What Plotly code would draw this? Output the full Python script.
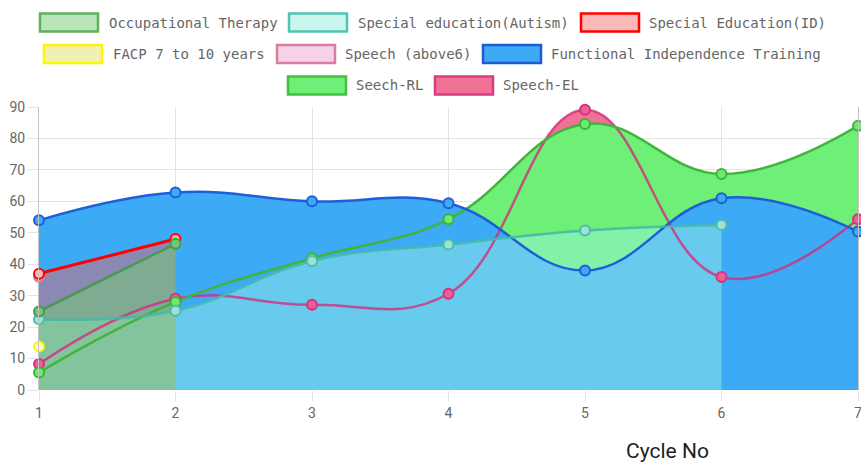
import plotly.graph_objects as go

# ---------------- data ----------------
cycles = [1, 2, 3, 4, 5, 6, 7]
occupational_therapy = [25, 46.5, None, None, None, None, None]
special_autism = [22.5, 25.2, 41, 46.3, 50.7, 52.5, None]
special_id = [37, 48, None, None, None, None, None]
facp_7_10 = [13.8, None, None, None, None, None, None]
speech_above6 = [36, None, None, None, None, None, None]
functional_independence = [54, 62.8, 60, 59.4, 38, 61, 50.4]
seech_rl = [5.6, 28, 41.9, 54.3, 84.6, 68.7, 84]
speech_el = [8.3, 29, 27.1, 30.6, 89.1, 35.9, 54.3]
x_ticks = [1, 2, 3, 4, 5, 6, 7]
y_ticks = [0, 10, 20, 30, 40, 50, 60, 70, 80, 90]

names = ["Occupational Therapy", "Special education(Autism)", "Special Education(ID)",
         "FACP 7 to 10 years", "Speech (above6)", "Functional Independence Training",
         "Seech-RL", "Speech-EL"]
series = [occupational_therapy, special_autism, special_id, facp_7_10,
          speech_above6, functional_independence, seech_rl, speech_el]

# ---------------- styles ----------------
area_fill = ["rgba(115,205,115,0.5)", "rgba(158,245,229,0.45)", "rgba(244,93,93,0.43)",
             "rgba(240,240,180,0.6)", "rgba(245,210,230,0.6)", "rgb(60,170,245)",
             "rgb(110,240,120)", "rgb(240,115,150)"]
line_col = ["rgb(70,155,80)", "rgba(70,185,170,0.9)", "rgb(255,0,0)",
            "rgb(255,245,0)", "rgb(215,125,160)", "rgb(30,95,215)",
            "rgb(65,180,60)", "rgba(210,45,125,0.8)"]
line_w = [2.5, 2.5, 3, 2.5, 2.5, 2.5, 2.5, 2.5]
mark_fill = ["rgb(120,195,120)", "rgb(160,225,215)", "rgb(250,185,185)",
             "rgb(250,250,200)", "rgb(235,140,170)", "rgb(60,170,245)",
             "rgb(110,235,110)", "rgb(235,95,145)"]
mark_line = ["rgb(70,155,80)", "rgb(75,190,170)", "rgb(255,0,0)",
             "rgb(255,245,0)", "rgb(215,125,160)", "rgb(30,95,215)",
             "rgb(60,180,60)", "rgb(215,50,130)"]
legend_fill = ["rgb(185,230,185)", "rgb(202,246,238)", "rgb(250,185,185)",
               "rgb(240,240,180)", "rgb(245,210,230)", "rgb(60,170,245)",
               "rgb(110,240,120)", "rgb(240,115,150)"]
legend_border = ["rgb(95,175,95)", "rgb(80,195,180)", "rgb(255,0,0)",
                 "rgb(255,245,0)", "rgb(215,125,160)", "rgb(30,90,210)",
                 "rgb(70,190,60)", "rgb(215,60,130)"]
# legend layout (pixels): box left, row centre y, text left
legend_pos = [(40, 22.5, 107), (289, 22.5, 356), (581, 22.5, 647),
              (44, 54, 111), (277, 54, 343), (483, 54, 549),
              (288, 85.5, 354), (435, 85.5, 501)]

W, H = 861, 472
ML, MR, MT, MB = 39, 3, 107, 82
PW, PH = W - ML - MR, H - MT - MB


def px(x):
    return (x - ML) / PW


def py(y):
    return (H - MB - y) / PH


fig = go.Figure()
draw_order = [7, 6, 5, 4, 3, 2, 1, 0]  # last dataset at the bottom

# fills
for i in draw_order:
    vals = series[i]
    if sum(v is not None for v in vals) < 2:
        continue
    fig.add_trace(go.Scatter(x=cycles, y=vals, mode="lines", fill="tozeroy",
                             fillcolor=area_fill[i],
                             line=dict(width=0, shape="spline", smoothing=1.2,
                                       color=area_fill[i]),
                             hoverinfo="skip", showlegend=False))
# lines
for i in draw_order:
    vals = series[i]
    if sum(v is not None for v in vals) < 2:
        continue
    fig.add_trace(go.Scatter(x=cycles, y=vals, mode="lines", name=names[i],
                             line=dict(width=line_w[i], shape="spline", smoothing=1.2,
                                       color=line_col[i]),
                             showlegend=False))
# points
for i in draw_order:
    fig.add_trace(go.Scatter(x=cycles, y=series[i], mode="markers", name=names[i],
                             marker=dict(size=10, color=mark_fill[i],
                                         line=dict(width=2, color=mark_line[i])),
                             cliponaxis=False, showlegend=False))

shapes = []
annotations = []
for i, (bx, cy, tx) in enumerate(legend_pos):
    shapes.append(dict(type="rect", xref="paper", yref="paper",
                       x0=px(bx), x1=px(bx + 58), y0=py(cy - 9), y1=py(cy + 9),
                       fillcolor=legend_fill[i],
                       line=dict(color=legend_border[i], width=2.5)))
    annotations.append(dict(text=names[i], xref="paper", yref="paper",
                            x=px(tx), y=py(cy), xanchor="left", yanchor="middle",
                            showarrow=False,
                            font=dict(family="DejaVu Sans Mono", size=14,
                                      color="rgb(102,102,102)")))
annotations.append(dict(text="Cycle No", xref="paper", yref="paper",
                        x=px(667), y=py(451), xanchor="center", yanchor="middle",
                        showarrow=False,
                        font=dict(family="Roboto", size=21, color="rgb(30,30,30)")))

fig.update_layout(
    width=W, height=H,
    margin=dict(l=ML, r=MR, t=MT, b=MB, pad=0, autoexpand=False),
    paper_bgcolor="white", plot_bgcolor="white",
    showlegend=False,
    shapes=shapes, annotations=annotations,
    xaxis=dict(range=[1, 7], tickvals=x_ticks, ticktext=[str(v) for v in x_ticks],
               showgrid=True, gridcolor="rgb(228,228,228)", gridwidth=1,
               zeroline=False, showline=False, ticklabeloverflow="allow",
               ticks="outside", ticklen=10, tickcolor="rgb(228,228,228)",
               tickfont=dict(family="Roboto", size=14, color="rgb(102,102,102)")),
    yaxis=dict(range=[0, 90], tickvals=y_ticks, ticktext=[str(v) for v in y_ticks],
               showgrid=True, gridcolor="rgb(228,228,228)", gridwidth=1,
               zeroline=False, showline=True, mirror=True,
               linecolor="rgb(195,195,195)", linewidth=1,
               ticks="outside", ticklen=10, tickcolor="rgb(228,228,228)",
               tickfont=dict(family="Roboto", size=14, color="rgb(102,102,102)")),
)

fig.write_html("out.html", config={"displayModeBar": False},
               post_script="document.body.style.margin='0';document.body.style.padding='0';")
